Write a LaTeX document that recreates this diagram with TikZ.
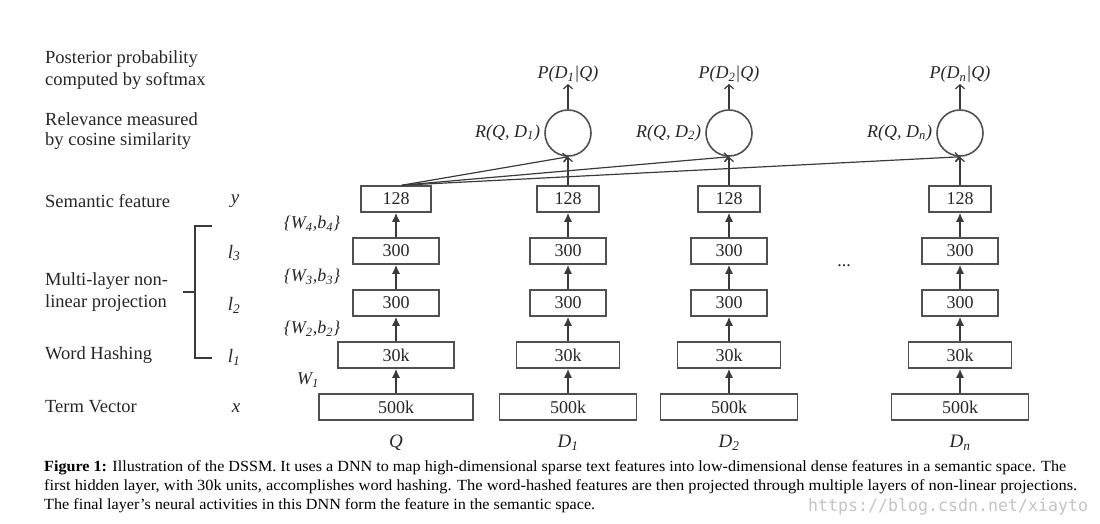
\documentclass[tikz,border=0pt]{standalone}
\usepackage{fontspec}
\setmainfont{Liberation Serif}
\newfontfamily\wmfont{DejaVu Sans Mono}
\usetikzlibrary{arrows.meta,calc}
\newcommand{\tsub}[1]{\textsubscript{\itshape #1}}
\definecolor{boxc}{HTML}{505050}
\definecolor{linec}{HTML}{3A3A3A}
\definecolor{txt}{HTML}{262626}
\definecolor{wm}{HTML}{C4C4C4}
\begin{document}
\begin{tikzpicture}[x=1pt,y=-1pt,
  box/.style={draw=boxc, line width=1.6pt, minimum height=26pt, inner sep=0pt, text=txt, font=\fontsize{18}{20}\selectfont},
  up/.style={draw=linec, line width=1.3pt, -{Latex[length=9pt,width=8pt]}},
  tip/.style={draw=linec, line width=1.2pt, -{Straight Barb[length=4pt,width=9pt]}},
  sim/.style={circle, draw=boxc, line width=1.6pt, minimum size=46pt, inner sep=0pt},
  lbl/.style={anchor=west, font=\fontsize{18.5}{22}\selectfont, text=txt, inner sep=0pt, align=left},
  var/.style={font=\fontsize{19}{22}\selectfont\itshape, text=txt, inner sep=0pt},
  wt/.style={font=\fontsize{18}{22}\selectfont\itshape, text=txt, inner sep=0pt},
  captxt/.style={anchor=west, font=\fontsize{15.5}{18}\selectfont, text=black, inner sep=0pt},
]
\useasboundingbox (0,0) rectangle (1100,524);

% left labels
\node[lbl] (l1) at (45,59) {Posterior probability};
\node[lbl] (l2) at (45,81) {computed by softmax};
\node[lbl] (l3) at (45,119) {Relevance measured};
\node[lbl] (l4) at (45,141) {by cosine similarity};
\node[lbl] (l5) at (45,201) {Semantic feature};
\node[lbl] (l6) at (45,281) {Multi-layer non-};
\node[lbl] (l7) at (45,303) {linear projection};
\node[lbl] (l8) at (45,355) {Word Hashing};
\node[lbl] (l9) at (45,407) {Term Vector};

% bracket
\draw[draw=linec, line width=1.3pt] (212,226) -- (195,226) -- (195,358) -- (212,358);
\draw[draw=linec, line width=1.3pt] (183,292) -- (195,292);

% variables
\node[var] (vy) at (235,201) {y};
\node[var] (vl3) at (234,253) {l\tsub{3}};
\node[var] (vl2) at (234,305) {l\tsub{2}};
\node[var] (vl1) at (234,357) {l\tsub{1}};
\node[var] (vx) at (236,408) {x};

% weights
\node[wt] (w4) at (312,224) {\{W\tsub{4},b\tsub{4}\}};
\node[wt] (w3) at (312,277) {\{W\tsub{3},b\tsub{3}\}};
\node[wt] (w2) at (312,329) {\{W\tsub{2},b\tsub{2}\}};
\node[wt] (w1) at (308,380) {W\tsub{1}};

% columns
\foreach \c/\x/\bwa/\bwb/\bwc/\bwd in {q/396/70/86/116/154, d1/568/62/76/103/137, d2/729/62/76/103/137, dn/960/62/76/103/137}{
  \node[box, minimum width=\bwd pt] (\c1) at (\x,407) {500k};
  \node[box, minimum width=\bwc pt] (\c2) at (\x,355) {30k};
  \node[box, minimum width=\bwb pt] (\c3) at (\x,303) {300};
  \node[box, minimum width=\bwb pt] (\c4) at (\x,251) {300};
  \node[box, minimum width=\bwa pt] (\c5) at (\x,199) {128};
  \draw[up] (\c1) -- (\c2);
  \draw[up] (\c2) -- (\c3);
  \draw[up] (\c3) -- (\c4);
  \draw[up] (\c4) -- (\c5);
}

% similarity circles
\foreach \c/\x/\s in {d1/568/1, d2/729/2, dn/960/n}{
  \node[sim] (\c s) at (\x,133) {};
  \node[var, anchor=south, inner sep=1pt, font=\fontsize{18}{22}\selectfont\itshape] (\c p) at (\x,84) {P(D\tsub{\s}|Q)};
  \node[var, anchor=east, font=\fontsize{18}{22}\selectfont\itshape] (\c r) at ([xshift=-4pt]\c s.west) {R(Q, D\tsub{\s})};
  \draw[tip] (\c5) -- (\c s);
  \draw[tip] (\c s) -- (\c p);
}
\coordinate (qs) at ([xshift=6pt]q5.north);
\draw[tip] (qs) -- (d1s.south);
\draw[tip] (qs) -- (d2s.south);
\draw[tip] (qs) -- (dns.south);

% ellipsis
\node[font=\fontsize{18}{20}\selectfont, text=txt] (dots) at (844,266) {...};

% column labels
\node[var] (cq) at (396,443) {Q};
\node[var] (cd1) at (568,443) {D\tsub{1}};
\node[var] (cd2) at (729,443) {D\tsub{2}};
\node[var] (cdn) at (960,443) {D\tsub{n}};

% caption
\node[captxt] (c1) at (44,468) {\resizebox{1022pt}{\height}{\textbf{Figure 1:} Illustration of the DSSM. It uses a DNN to map high-dimensional sparse text features into low-dimensional dense features in a semantic space. The}};
\node[captxt] (c2) at (44,487) {\resizebox{1033pt}{\height}{first hidden layer, with 30k units, accomplishes word hashing. The word-hashed features are then projected through multiple layers of non-linear projections.}};
\node[captxt] (c3) at (44,506) {\resizebox{551pt}{\height}{The final layer's neural activities in this DNN form the feature in the semantic space.}};
\node[anchor=west, inner sep=0pt, text=wm, font=\fontsize{17}{20}\selectfont\wmfont] (wmk) at (808,507) {\resizebox{280pt}{\height}{https://blog.csdn.net/xiayto}};
\end{tikzpicture}
\end{document}
